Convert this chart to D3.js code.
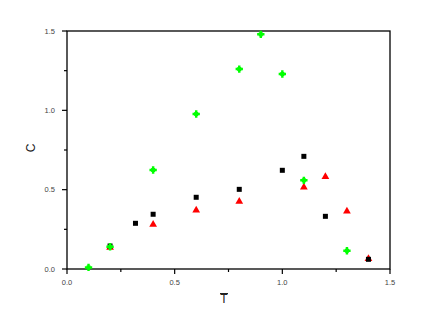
<!DOCTYPE html>
<html><head><meta charset="utf-8">
<script src="https://cdn.jsdelivr.net/npm/d3@7"></script>
<style>body{margin:0;background:#fff}svg{display:block}</style>
</head><body>
<script>
const xTicks = [0, 0.5, 1.0, 1.5];
const yTicks = [0, 0.5, 1.0, 1.5];
const xTickLabels = ["0.0", "0.5", "1.0", "1.5"];
const yTickLabels = ["0.0", "0.5", "1.0", "1.5"];

const redX = [0.2, 0.4, 0.6, 0.8, 1.1, 1.2, 1.3, 1.4];
const redY = [0.135, 0.28, 0.37, 0.425, 0.515, 0.582, 0.364, 0.065];

const blackX = [0.2, 0.318, 0.4, 0.6, 0.8, 1.0, 1.1, 1.2, 1.4];
const blackY = [0.145, 0.288, 0.345, 0.452, 0.502, 0.622, 0.71, 0.332, 0.061];

const greenX = [0.1, 0.2, 0.4, 0.6, 0.8, 0.9, 1.0, 1.1, 1.3];
const greenY = [0.01, 0.14, 0.624, 0.977, 1.26, 1.479, 1.229, 0.559, 0.115];

const W = 422, H = 332;
const L = 67, R = 390, T = 31, B = 269;
const x = d3.scaleLinear().domain([0, 1.5]).range([L, R]);
const y = d3.scaleLinear().domain([0, 1.5]).range([B, T]);

const svg = d3.select("body").append("svg").attr("width", W).attr("height", H);

// frame
svg.append("rect").attr("x", L).attr("y", T).attr("width", R - L).attr("height", B - T)
  .attr("fill", "none").attr("stroke", "#000").attr("stroke-width", 1.3);

const minor = [0.25, 0.75, 1.25];
const xAxis = svg.append("g").attr("transform", `translate(0,${B})`);
xAxis.selectAll("line.maj").data(xTicks).join("line")
  .attr("x1", d => x(d)).attr("x2", d => x(d)).attr("y1", 0).attr("y2", 5)
  .attr("stroke", "#000").attr("stroke-width", 1.2);
xAxis.selectAll("line.min").data(minor).join("line")
  .attr("x1", d => x(d)).attr("x2", d => x(d)).attr("y1", 0).attr("y2", 3)
  .attr("stroke", "#000").attr("stroke-width", 1.2);
xAxis.selectAll("text").data(xTicks).join("text")
  .attr("x", d => x(d)).attr("y", 16).attr("text-anchor", "middle")
  .attr("font-family", "Liberation Sans, Arial, sans-serif").attr("font-size", 7.5).attr("fill", "#444")
  .text((d, i) => xTickLabels[i]);

const yAxis = svg.append("g").attr("transform", `translate(${L},0)`);
yAxis.selectAll("line.maj").data(yTicks).join("line")
  .attr("y1", d => y(d)).attr("y2", d => y(d)).attr("x1", 0).attr("x2", -5)
  .attr("stroke", "#000").attr("stroke-width", 1.2);
yAxis.selectAll("line.min").data(minor).join("line")
  .attr("y1", d => y(d)).attr("y2", d => y(d)).attr("x1", 0).attr("x2", -3)
  .attr("stroke", "#000").attr("stroke-width", 1.2);
yAxis.selectAll("text").data(yTicks).join("text")
  .attr("x", -12).attr("y", d => y(d) + 2.5).attr("text-anchor", "end")
  .attr("font-family", "Liberation Sans, Arial, sans-serif").attr("font-size", 7.5).attr("fill", "#444")
  .text((d, i) => yTickLabels[i]);

// axis titles
svg.append("text").attr("x", 224).attr("y", 303).attr("text-anchor", "middle")
  .attr("font-family", "Liberation Sans, Arial, sans-serif").attr("font-size", 12).attr("fill", "#222")
  .text("T");
svg.append("line").attr("x1", 220).attr("x2", 228).attr("y1", 293.5).attr("y2", 293.5)
  .attr("stroke", "#222").attr("stroke-width", 1);
svg.append("text").attr("transform", "translate(35,148) rotate(-90)").attr("text-anchor", "middle")
  .attr("font-family", "Liberation Sans, Arial, sans-serif").attr("font-size", 12).attr("fill", "#222")
  .text("C");

// series
const tri = d3.symbol().type(d3.symbolTriangle).size(26);
svg.append("g").selectAll("path").data(redX.map((v, i) => [v, redY[i]])).join("path")
  .attr("d", tri).attr("transform", d => `translate(${x(d[0])},${y(d[1])})`).attr("fill", "#ff0000");

svg.append("g").selectAll("rect").data(blackX.map((v, i) => [v, blackY[i]])).join("rect")
  .attr("x", d => x(d[0]) - 2.5).attr("y", d => y(d[1]) - 2.5).attr("width", 5).attr("height", 5)
  .attr("fill", "#000");

const cross = d3.symbol().type(d3.symbolCross).size(30);
svg.append("g").selectAll("path").data(greenX.map((v, i) => [v, greenY[i]])).join("path")
  .attr("d", cross).attr("transform", d => `translate(${x(d[0])},${y(d[1])})`).attr("fill", "#00ff00");
svg.append("g").selectAll("rect").data(greenX.map((v, i) => [v, greenY[i]])).join("rect")
  .attr("x", d => x(d[0]) - 2).attr("y", d => y(d[1]) - 2).attr("width", 4).attr("height", 4)
  .attr("fill", "#00ff00");
</script>
</body></html>
